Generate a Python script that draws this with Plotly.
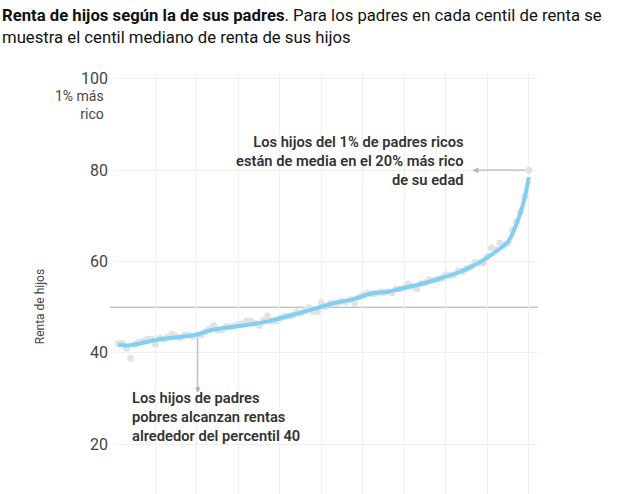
import plotly.graph_objects as go

# Parent income centile (1..100)
centiles = list(range(1, 101))

# Median child income centile for each parent centile (dots)
child_median = [
    42.1, 42.1, 41.0, 38.8, 41.8, 42.3, 42.5, 43.0, 43.0, 41.9,
    43.2, 43.0, 43.4, 44.1, 43.6, 43.3, 43.9, 43.9, 43.6, 43.9,
    43.9, 44.6, 45.2, 46.0, 45.0, 45.0, 45.8, 45.7, 45.9, 46.2,
    46.4, 47.0, 47.0, 46.5, 46.0, 47.2, 48.1, 47.0, 47.0, 47.6,
    48.0, 48.0, 48.2, 49.0, 48.7, 49.3, 49.9, 49.0, 49.0, 51.0,
    50.1, 50.8, 50.9, 51.1, 51.3, 51.2, 51.7, 51.0, 52.2, 52.6,
    53.1, 53.0, 53.0, 53.3, 53.2, 53.4, 53.1, 54.0, 54.0, 54.3,
    55.1, 54.5, 54.0, 55.2, 55.4, 56.0, 55.9, 56.2, 56.4, 57.1,
    57.0, 57.1, 58.0, 57.8, 58.4, 58.8, 59.8, 59.7, 59.8, 61.1,
    63.0, 62.5, 64.0, 63.5, 64.0, 66.9, 68.7, 70.9, 74.2, 80.0,
]

# Smoothed trend line read at key centiles
trend_x = [1, 3, 7, 11, 15, 20, 23, 27, 32, 37, 43, 47, 50, 53, 57, 62, 66,
           70, 75, 79, 83, 86, 89, 91, 93, 95, 96, 97, 98, 99, 100]
trend_y = [41.7, 41.6, 42.2, 43.0, 43.4, 44.0, 44.9, 45.5, 46.1, 46.9, 48.3,
           49.3, 50.1, 50.9, 51.6, 53.0, 53.4, 54.2, 55.3, 56.4, 57.6, 58.8,
           60.3, 61.5, 62.8, 64.4, 66.0, 68.2, 70.8, 74.0, 78.5]

y_ticks = [20, 40, 60, 80, 100]
highlight_centile = 89

title_bold = "Renta de hijos según la de sus padres"
title_rest = ". Para los padres en cada centil de renta se<br>muestra el centil mediano de renta de sus hijos"
note_rich = "Los hijos del 1% de padres ricos<br>están de media en el 20% más rico<br>de su edad"
note_poor = "Los hijos de padres<br>pobres alcanzan rentas<br>alrededor del percentil 40"

FONT = "Roboto"
dot_colors = ["#e8d3df" if c == highlight_centile else "#e3e3e3" for c in centiles]

fig = go.Figure()
fig.add_trace(go.Scatter(
    x=centiles, y=child_median, mode="markers",
    marker=dict(size=7, color=dot_colors, line=dict(width=0)),
    hoverinfo="skip", showlegend=False,
))
fig.add_trace(go.Scatter(
    x=trend_x, y=trend_y, mode="lines",
    line=dict(color="#80cff5", width=4, shape="spline", smoothing=0.7),
    hoverinfo="skip", showlegend=False,
))

fig.add_shape(type="line", xref="paper", yref="y", x0=-0.01, x1=1, y0=50, y1=50,
              line=dict(color="#aaaaaa", width=1), layer="below")

fig.update_layout(
    width=618, height=494,
    margin=dict(l=114, r=80, t=72, b=0),
    paper_bgcolor="white", plot_bgcolor="white",
    font=dict(family=FONT, color="#444"),
    xaxis=dict(range=[0, 102.2], dtick=10, tick0=0, showgrid=True,
               gridcolor="#f0f0f0", gridwidth=1, zeroline=False,
               showticklabels=False, ticks="", showline=False, automargin=False),
    yaxis=dict(range=[9.1, 101.5], tickvals=y_ticks, showgrid=True,
               gridcolor="#f0f0f0", gridwidth=1, zeroline=False,
               tickfont=dict(family=FONT, size=16, color="#444"),
               ticklabelstandoff=5,
               ticks="", showline=False, automargin=False),
)

fig.add_annotation(text=f"<b>{title_bold}</b>{title_rest}",
                   xref="paper", yref="paper", x=-0.2689, y=1.162,
                   xanchor="left", yanchor="top", align="left", showarrow=False,
                   font=dict(family=FONT, size=16.7, color="#111"))

fig.add_annotation(text="1% más<br>rico", xref="paper", yref="y",
                   x=-0.019, y=94.3, xanchor="right", yanchor="middle",
                   align="right", showarrow=False,
                   font=dict(family=FONT, size=14, color="#444"))
fig.add_annotation(text="Renta de hijos", xref="paper", yref="y",
                   x=-0.1745, y=50, textangle=-90, showarrow=False,
                   xanchor="center", yanchor="middle",
                   font=dict(family=FONT, size=12, color="#444"))

fig.add_annotation(text=note_rich, xref="x", yref="y", x=84.8, y=82.0,
                   xanchor="right", yanchor="middle", align="right",
                   showarrow=False,
                   font=dict(family=FONT, size=14.7, color="#333", weight=600))
fig.add_annotation(x=86.4, y=80, ax=99.4, ay=80, xref="x", yref="y",
                   axref="x", ayref="y", text="", showarrow=True,
                   arrowhead=2, arrowsize=1, arrowwidth=1.2, arrowcolor="#b8b8b8")

fig.add_annotation(text=note_poor, xref="x", yref="y", x=3.86, y=26.0,
                   xanchor="left", yanchor="middle", align="left",
                   showarrow=False,
                   font=dict(family=FONT, size=14.7, color="#333", weight=600))
fig.add_annotation(x=20.2, y=31.3, ax=20.2, ay=43.5, xref="x", yref="y",
                   axref="x", ayref="y", text="", showarrow=True,
                   arrowhead=2, arrowsize=1, arrowwidth=1, arrowcolor="#aaaaaa")

fig.write_html("out.html")
